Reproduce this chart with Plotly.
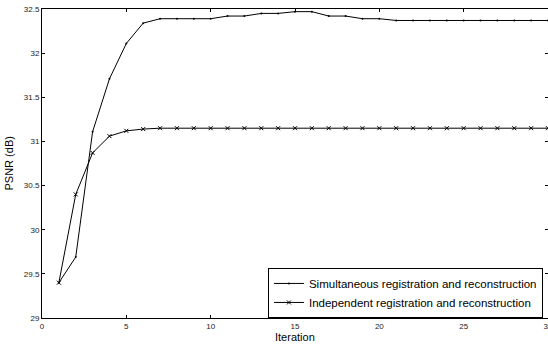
import plotly.graph_objects as go

iterations = list(range(1, 31))
simultaneous = [29.40, 29.69, 31.11, 31.71, 32.11, 32.34, 32.39, 32.39, 32.39, 32.39,
                32.42, 32.42, 32.45, 32.45, 32.47, 32.47, 32.42, 32.42, 32.39, 32.39,
                32.37, 32.37, 32.37, 32.37, 32.37, 32.37, 32.37, 32.37, 32.37, 32.37]
independent = [29.40, 30.40, 30.87, 31.06, 31.12, 31.14, 31.15, 31.15, 31.15, 31.15,
               31.15, 31.15, 31.15, 31.15, 31.15, 31.15, 31.15, 31.15, 31.15, 31.15,
               31.15, 31.15, 31.15, 31.15, 31.15, 31.15, 31.15, 31.15, 31.15, 31.15]
x_ticks = [0, 5, 10, 15, 20, 25, 30]
y_ticks = [29, 29.5, 30, 30.5, 31, 31.5, 32, 32.5]
y_tick_labels = ["29", "29.5", "30", "30.5", "31", "31.5", "32", "32.5"]

FONT = "Liberation Sans, Arial, sans-serif"

fig = go.Figure()
fig.add_trace(go.Scatter(
    x=iterations, y=simultaneous, mode="lines+markers",
    name="Simultaneous registration and reconstruction",
    line=dict(color="black", width=1),
    marker=dict(symbol="circle", size=2, color="black"),
))
fig.add_trace(go.Scatter(
    x=iterations, y=independent, mode="lines+markers",
    name="Independent registration and reconstruction",
    line=dict(color="black", width=1),
    marker=dict(symbol="x-thin", size=4, color="black",
                line=dict(color="black", width=1)),
))

axis_common = dict(
    showline=True, linecolor="black", linewidth=1, mirror="ticks",
    ticks="inside", ticklen=3, tickcolor="black", showgrid=False, zeroline=False,
    automargin=False, ticklabeloverflow="allow",
    tickfont=dict(family=FONT, size=8, color="#222"),
)

fig.update_layout(
    width=548, height=346,
    margin=dict(l=42, r=0, t=9, b=28),
    paper_bgcolor="white", plot_bgcolor="white",
    font=dict(family=FONT, color="black"),
    xaxis=dict(range=[0, 30], tickvals=x_ticks, **axis_common),
    yaxis=dict(range=[29, 32.5], tickvals=y_ticks, ticktext=y_tick_labels,
               **axis_common),
    legend=dict(x=0.99, y=0.162, xanchor="right", yanchor="top",
                bgcolor="white", bordercolor="black", borderwidth=1,
                font=dict(family=FONT, size=11.5), tracegroupgap=0,
                itemwidth=30),
    showlegend=True,
    annotations=[
        dict(text="Iteration", xref="paper", yref="paper", x=0.5, y=0,
             xanchor="center", yanchor="middle", yshift=-19, showarrow=False,
             font=dict(family=FONT, size=11, color="black")),
        dict(text="PSNR (dB)", xref="paper", yref="paper", x=0, y=0.5,
             xanchor="center", yanchor="middle", xshift=-34, textangle=-90,
             showarrow=False, font=dict(family=FONT, size=11, color="black")),
    ],
)

fig.write_html("out.html", config={"displayModeBar": False},
               post_script="document.body.style.margin='0';document.body.style.overflow='hidden';")
